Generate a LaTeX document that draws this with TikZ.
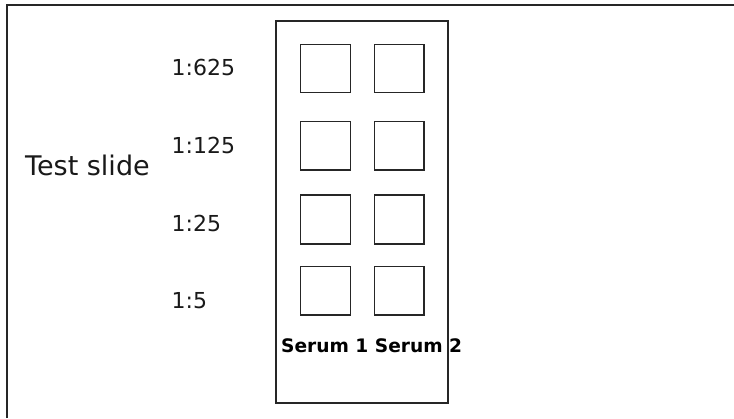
\documentclass[tikz,border=0pt]{standalone}
\usepackage{fontspec}
\setmainfont{DejaVu Sans}
\begin{document}
\begin{tikzpicture}[x=1pt,y=-1pt,
  frameline/.style={line width=2pt,draw=black!85},
  slideline/.style={line width=1.4pt,draw=black!85},
  well/.style={line width=1.5pt,draw=black!85},
  dil/.style={anchor=base west,inner sep=0pt,font=\fontsize{22}{26}\selectfont,text=black!90},
  title/.style={anchor=base west,inner sep=0pt,font=\fontsize{27}{32}\selectfont,text=black!90},
  serum/.style={anchor=base west,inner sep=0pt,font=\bfseries\fontsize{18.6}{22}\selectfont,text=black}]
\useasboundingbox (0,0) rectangle (734,418);
% outer frame (top and left only)
\draw[frameline] (6.5,418) -- (6.5,5) -- (734,5);
% slide
\draw[slideline] (276,21) rectangle (448,403);
% wells
\foreach \r/\ya/\yb in {1/44.5/92.7, 2/121.7/170, 3/195/244, 4/266.7/315}{
  \draw[well] (300.7,\ya) rectangle (350.7,\yb);
  \draw[well] (374.4,\ya) rectangle (424,\yb);
}
% labels
\node[title] (ts) at (25,175.7) {Test slide};
\node[dil] (d625) at (171.5,75.7) {1:625};
\node[dil] (d125) at (171.5,153.3) {1:125};
\node[dil] (d25) at (171.5,231.7) {1:25};
\node[dil] (d5) at (171.5,308.3) {1:5};
\node[serum] (ser) at (281,352.7) {Serum 1 Serum 2};
\end{tikzpicture}
\end{document}
